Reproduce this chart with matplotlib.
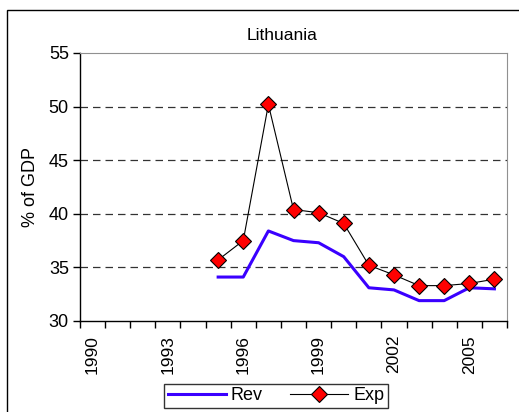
import numpy as np
import matplotlib
matplotlib.use("Agg")
import matplotlib.pyplot as plt
from matplotlib.patches import Rectangle

# data
years = [1995, 1996, 1997, 1998, 1999, 2000, 2001, 2002, 2003, 2004, 2005, 2006]
rev = [34.1, 34.1, 38.4, 37.5, 37.3, 36.0, 33.1, 32.9, 31.9, 31.9, 33.1, 33.0]
exp = [35.7, 37.5, 50.2, 40.4, 40.1, 39.1, 35.2, 34.3, 33.3, 33.3, 33.5, 33.9]
xlabels = [1990, 1993, 1996, 1999, 2002, 2005]
yticks = [30, 35, 40, 45, 50, 55]

plt.rcParams['font.family'] = ['Liberation Sans', 'DejaVu Sans']

fig = plt.figure(figsize=(5.19, 4.12), dpi=100)
ax = fig.add_axes([80/519, 1-321/412, 427/519, 268/412])

# outer chart frame (runs off the right/bottom edge)
fig.patches.append(Rectangle((7/519, -0.1), 1.2, 1-10/412+0.1, transform=fig.transFigure,
                             fill=False, edgecolor='black', linewidth=1.0, zorder=0))

for y in yticks[1:-1]:
    ax.axhline(y, color='#333333', linewidth=0.9, dashes=(6, 4), zorder=1)

ax.plot(years, rev, color='#3a00ff', linewidth=2.2, label='Rev', zorder=3)
ax.plot(years, exp, color='black', linewidth=0.8, marker='D', markersize=8,
        markerfacecolor='#ff0000', markeredgecolor='black', markeredgewidth=0.8,
        label='Exp', zorder=4)

ax.set_xlim(1989.5, 2006.5)
ax.set_ylim(30, 55)
ax.set_yticks(yticks)
ax.set_xticks(xlabels)
ax.set_xticklabels([str(x) for x in xlabels], rotation=90)
ax.set_xticks(np.arange(1989.5, 2007, 1), minor=True)
ax.tick_params(axis='x', which='major', length=0, labelsize=12.5, pad=10)
ax.tick_params(axis='x', which='minor', length=5, width=1, direction='out')
ax.tick_params(axis='y', length=5, width=1, direction='out', labelsize=13, pad=3)

ax.spines['top'].set_color('#909090')
ax.spines['right'].set_color('#909090')
for s in ['left', 'bottom']:
    ax.spines[s].set_color('black')
    ax.spines[s].set_linewidth(1.0)

ax.set_ylabel('% of GDP', fontsize=13, labelpad=7)
fig.text(282/519, 1-35/412, 'Lithuania', ha='center', va='center', fontsize=12.5)

leg = fig.legend(loc='center', bbox_to_anchor=(276/519, 1-396/412), ncol=2,
                 fontsize=13, frameon=True, fancybox=False, handlelength=3.2,
                 columnspacing=1.5, borderpad=0.2, handletextpad=0.3)
leg.get_frame().set_edgecolor('black')
leg.get_frame().set_linewidth(1.0)

fig.savefig('out.png', dpi=100)
